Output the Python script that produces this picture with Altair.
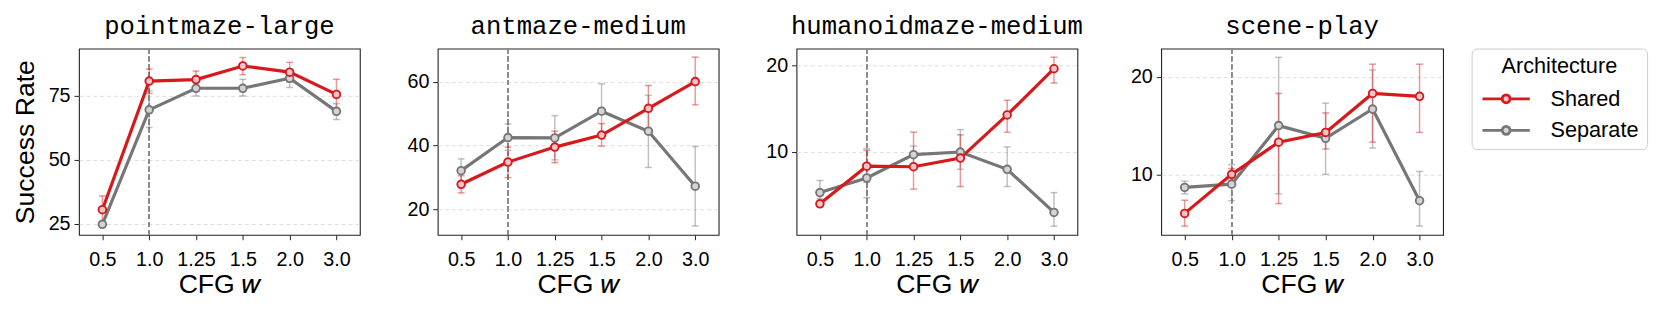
import altair as alt
import pandas as pd

W = ["0.5", "1.0", "1.25", "1.5", "2.0", "3.0"]
ENVS = ["pointmaze-large", "antmaze-medium", "humanoidmaze-medium", "scene-play"]
ARCH = ["Shared", "Separate"]

# pointmaze-large
pm_shared = [30.6, 80.8, 81.4, 86.7, 84.3, 75.6]
pm_shared_lo = [25.5, 76.0, 78.0, 83.3, 80.5, 69.8]
pm_shared_hi = [36.0, 85.5, 84.7, 90.0, 88.1, 81.5]
pm_sep = [24.9, 69.6, 78.0, 78.0, 81.9, 69.0]
pm_sep_lo = [24.0, 62.7, 75.0, 75.0, 78.3, 65.8]
pm_sep_hi = [26.0, 77.0, 80.5, 81.5, 85.0, 72.0]

# antmaze-medium
am_shared = [27.8, 34.8, 39.5, 43.3, 51.7, 60.1]
am_shared_lo = [25.1, 29.9, 34.6, 39.8, 44.5, 52.8]
am_shared_hi = [30.5, 39.5, 44.5, 46.9, 58.9, 67.8]
am_sep = [32.1, 42.5, 42.4, 50.8, 44.5, 27.2]
am_sep_lo = [28.5, 38.5, 35.5, 42.5, 33.1, 14.7]
am_sep_hi = [35.8, 46.8, 49.4, 59.4, 55.8, 39.7]

# humanoidmaze-medium
hm_shared = [4.0, 8.36, 8.3, 9.3, 14.3, 19.66]
hm_shared_lo = [3.7, 6.5, 5.7, 6.0, 12.3, 18.0]
hm_shared_hi = [4.3, 10.2, 12.3, 12.0, 16.0, 21.0]
hm_sep = [5.3, 7.0, 9.7, 10.0, 8.0, 3.0]
hm_sep_lo = [4.6, 4.7, 8.0, 8.0, 6.0, 1.4]
hm_sep_hi = [6.7, 10.4, 10.7, 12.6, 10.6, 5.3]

# scene-play
sp_shared = [6.0, 10.0, 13.3, 14.3, 18.3, 18.0]
sp_shared_lo = [4.7, 9.4, 7.0, 12.6, 13.3, 14.3]
sp_shared_hi = [7.35, 10.6, 18.3, 16.3, 21.3, 21.3]
sp_sep = [8.66, 9.0, 15.0, 13.7, 16.7, 7.3]
sp_sep_lo = [8.0, 7.3, 8.0, 10.0, 12.7, 4.7]
sp_sep_hi = [9.3, 11.0, 22.0, 17.3, 20.7, 10.3]

Y_DOMAINS = [[20.8, 93.5], [11.9, 70.5], [0.4, 22.0], [3.8, 22.9]]
Y_TICKS = [[25, 50, 75], [20, 40, 60], [10, 20], [10, 20]]
PANEL_W = [285, 285, 285, 286]

SERIES = [
    (pm_shared, pm_shared_lo, pm_shared_hi, pm_sep, pm_sep_lo, pm_sep_hi),
    (am_shared, am_shared_lo, am_shared_hi, am_sep, am_sep_lo, am_sep_hi),
    (hm_shared, hm_shared_lo, hm_shared_hi, hm_sep, hm_sep_lo, hm_sep_hi),
    (sp_shared, sp_shared_lo, sp_shared_hi, sp_sep, sp_sep_lo, sp_sep_hi),
]

RED = "#d7191c"
GRAY = "#767676"
RED_FILL = "#f3c4ca"
GRAY_FILL = "#d4d4d4"

SANS = "Liberation Sans"
MONO = "Liberation Mono"

SYMBOL_PATH = "M-3,0L-0.5,0M0.5,0L3,0M-0.5,0A0.5,0.5,0,1,1,0.5,0A0.5,0.5,0,1,1,-0.5,0Z"

legend = alt.Legend(
    title="Architecture", orient="right", offset=28,
    symbolType=SYMBOL_PATH, symbolSize=256, symbolStrokeWidth=2.8, symbolOpacity=1,
    symbolOffset=16, labelOffset=34,
    labelFont=SANS, labelFontSize=22, labelColor="black",
    titleFont=SANS, titleFontSize=22, titleFontWeight="normal", titleColor="black",
    titleAnchor="middle", titlePadding=10, rowPadding=10,
    strokeColor="#cccccc", cornerRadius=5, padding=8, fillColor="white",
)

stroke_scale = alt.Scale(domain=ARCH, range=[RED, GRAY])
fill_scale = alt.Scale(domain=ARCH, range=[RED_FILL, GRAY_FILL])


def panel(i):
    s_mean, s_lo, s_hi, p_mean, p_lo, p_hi = SERIES[i]
    rows = []
    for j, w in enumerate(W):
        rows.append({"w": w, "arch": "Separate", "mean": p_mean[j], "lo": p_lo[j], "hi": p_hi[j], "ord": j})
    for j, w in enumerate(W):
        rows.append({"w": w, "arch": "Shared", "mean": s_mean[j], "lo": s_lo[j], "hi": s_hi[j], "ord": j})
    df = pd.DataFrame(rows)

    x = alt.X(
        "w:O",
        scale=alt.Scale(domain=W, type="point", padding=0.5),
        axis=alt.Axis(title="CFG 𝑤", labelAngle=0, labelAlign="center", labelBaseline="top"),
    )
    yscale = alt.Scale(domain=Y_DOMAINS[i], nice=False, zero=False)
    yaxis_kwargs = dict(values=Y_TICKS[i], grid=True)
    if i == 0:
        yaxis = alt.Axis(title="Success Rate", **yaxis_kwargs)
    else:
        yaxis = alt.Axis(title=None, **yaxis_kwargs)
    stroke = alt.Stroke("arch:N", scale=stroke_scale, legend=legend)
    fill = alt.Fill("arch:N", scale=fill_scale, legend=legend)

    base = alt.Chart(df)
    vline = base.mark_rule(color="#8c8c8c", strokeDash=[5, 3], strokeWidth=1.2).encode(
        x=alt.XDatum("1.0", type="ordinal")
    )
    err = base.mark_rule(opacity=0.45, strokeWidth=1.5).encode(
        x=x, y=alt.Y("lo:Q", scale=yscale, axis=yaxis), y2="hi:Q", stroke=stroke
    )
    cap_lo = base.mark_point(shape="stroke", size=49, opacity=0.45, strokeWidth=1.5).encode(
        x=x, y=alt.Y("lo:Q"), stroke=stroke
    )
    cap_hi = base.mark_point(shape="stroke", size=49, opacity=0.45, strokeWidth=1.5).encode(
        x=x, y=alt.Y("hi:Q"), stroke=stroke
    )
    line = base.mark_line(strokeWidth=3.2).encode(
        x=x, y=alt.Y("mean:Q"), stroke=stroke, order="ord:Q"
    )
    pts = base.mark_point(shape="circle", size=60, strokeWidth=1.9, opacity=1, filled=False).encode(
        x=x, y=alt.Y("mean:Q"), stroke=stroke, fill=fill
    )
    return alt.layer(vline, err, cap_lo, cap_hi, line, pts).properties(
        width=PANEL_W[i], height=189,
        title=alt.TitleParams(ENVS[i], font=MONO, fontSize=26, fontWeight="normal", color="black", offset=9),
    )


chart = alt.hconcat(*[panel(i) for i in range(4)], spacing=45).resolve_scale(
    y="independent", stroke="shared", fill="shared"
).properties(
    padding={"left": 3, "top": 2, "right": 5, "bottom": 2}
).configure_view(
    stroke="#222222", strokeWidth=1.1
).configure_axis(
    labelFont=SANS, labelFontSize=20, labelColor="black",
    titleFont=SANS, titleFontSize=27, titleFontWeight="normal", titleColor="black",
    domain=False, tickColor="#222222", tickSize=5, labelPadding=4,
    gridColor="#dddddd", gridDash=[4, 3], gridWidth=1,
).configure_axisX(
    grid=False, titlePadding=3, labelPadding=10,
).configure_axisY(
    minExtent=32, maxExtent=32, titlePadding=8,
)

chart.save("out.html", embed_options={"renderer": "svg", "actions": False})
